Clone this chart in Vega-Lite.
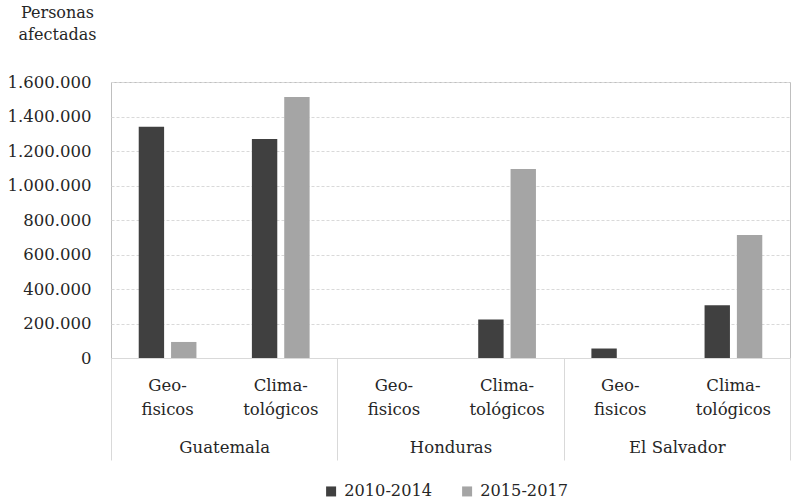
{
  "$schema": "https://vega.github.io/schema/vega-lite/v6.json",
  "width": 679,
  "height": 276,
  "autosize": {"type": "none"},
  "padding": {"left": 111, "top": 82, "right": 1, "bottom": 144},
  "config": {
    "locale": {"number": {"decimal": ",", "thousands": ".", "grouping": [3], "currency": ["", ""]}},
    "font": "DejaVu Serif",
    "view": {"stroke": "#bfbfbf"},
    "axis": {"labelFont": "DejaVu Serif", "labelFontSize": 16.5, "labelColor": "#262626", "titleFont": "DejaVu Serif"},
    "legend": {"labelFont": "DejaVu Serif", "labelFontSize": 16.2, "labelColor": "#262626"}
  },
  "data": {
    "values": [
      {"pais": "Guatemala", "tipo": "Geo-fisicos", "periodo": "2010-2014", "personas": 1340000},
      {"pais": "Guatemala", "tipo": "Geo-fisicos", "periodo": "2015-2017", "personas": 93000},
      {"pais": "Guatemala", "tipo": "Clima-tológicos", "periodo": "2010-2014", "personas": 1270000},
      {"pais": "Guatemala", "tipo": "Clima-tológicos", "periodo": "2015-2017", "personas": 1513000},
      {"pais": "Honduras", "tipo": "Geo-fisicos", "periodo": "2010-2014", "personas": 0},
      {"pais": "Honduras", "tipo": "Geo-fisicos", "periodo": "2015-2017", "personas": 0},
      {"pais": "Honduras", "tipo": "Clima-tológicos", "periodo": "2010-2014", "personas": 223000},
      {"pais": "Honduras", "tipo": "Clima-tológicos", "periodo": "2015-2017", "personas": 1095000},
      {"pais": "El Salvador", "tipo": "Geo-fisicos", "periodo": "2010-2014", "personas": 55000},
      {"pais": "El Salvador", "tipo": "Geo-fisicos", "periodo": "2015-2017", "personas": 0},
      {"pais": "El Salvador", "tipo": "Clima-tológicos", "periodo": "2010-2014", "personas": 306000},
      {"pais": "El Salvador", "tipo": "Clima-tológicos", "periodo": "2015-2017", "personas": 713000}
    ]
  },
  "layer": [
    {
      "transform": [{"calculate": "datum.pais + '|' + datum.tipo", "as": "clave"}],
      "mark": {"type": "bar"},
      "encoding": {
        "x": {
          "field": "clave", "type": "nominal", "sort": null,
          "scale": {"paddingInner": 0.49, "paddingOuter": 0.245},
          "axis": {
            "orient": "bottom", "title": null, "ticks": false, "domainColor": "#d9d9d9",
            "labelAngle": 0, "labelPadding": 19, "labelLineHeight": 24, "labelBaseline": "top",
            "labelExpr": "[split(split(datum.label, '|')[1], '-')[0] + '-', split(split(datum.label, '|')[1], '-')[1]]"
          }
        },
        "xOffset": {"field": "periodo", "type": "nominal", "scale": {"paddingInner": 0.215, "paddingOuter": 0}},
        "y": {
          "field": "personas", "type": "quantitative",
          "scale": {"domain": [0, 1600000]},
          "axis": {
            "title": ["Personas", "afectadas"], "titleAngle": 0, "titleAlign": "center", "titleBaseline": "top",
            "titleX": -54, "titleY": -78, "titleFontSize": 16, "titleFontWeight": "normal", "titleLineHeight": 22,
            "titleColor": "#262626",
            "values": [0, 200000, 400000, 600000, 800000, 1000000, 1200000, 1400000, 1600000],
            "format": ",d", "ticks": false, "domain": false, "labelPadding": 20,
            "gridColor": "#d9d9d9", "gridDash": [3, 2]
          }
        },
        "color": {
          "field": "periodo", "type": "nominal",
          "scale": {"range": ["#404040", "#a5a5a5"]},
          "legend": {
            "title": null, "orient": "none", "legendX": 212, "legendY": 401, "direction": "horizontal",
            "symbolType": "square", "symbolSize": 100, "symbolStrokeWidth": 0, "labelOffset": 5, "columnPadding": 26
          }
        }
      }
    },
    {
      "mark": {"type": "text", "text": ""},
      "encoding": {
        "x": {
          "field": "pais", "type": "nominal", "sort": null,
          "scale": {"paddingInner": 0, "paddingOuter": 0},
          "axis": {
            "orient": "bottom", "title": null, "domain": false, "tickBand": "extent", "tickSize": 102,
            "tickColor": "#d9d9d9", "labelAngle": 0, "labelPadding": -21, "labelBaseline": "top"
          }
        }
      }
    }
  ],
  "resolve": {"scale": {"x": "independent"}, "axis": {"x": "independent"}}
}
